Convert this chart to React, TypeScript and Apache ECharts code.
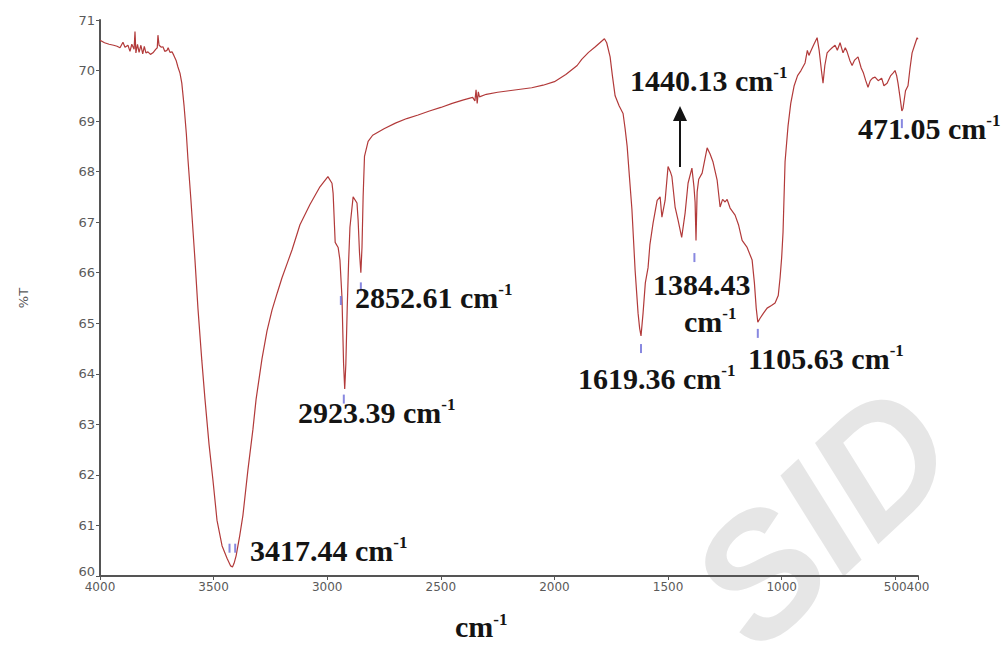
import React, { useEffect, useRef } from "react";
import * as echarts from "echarts";

// Wavenumber (cm-1) and transmittance (%T)
const wavenumber = [
  4000, 3980, 3960, 3940, 3925, 3912, 3899, 3890, 3877, 3868, 3860, 3850, 3846, 3842, 3835, 3828, 3820, 3812, 3805, 3798,
  3789, 3778, 3767, 3755, 3748, 3745, 3740, 3730, 3723, 3715, 3705, 3700, 3692, 3683, 3675, 3665, 3657, 3648, 3640, 3630,
  3620, 3613, 3600, 3582, 3569, 3552, 3538, 3520, 3503, 3485, 3463, 3441, 3425, 3417, 3410, 3401, 3385, 3371, 3349, 3327,
  3313, 3287, 3265, 3243, 3220, 3199, 3175, 3155, 3120, 3076, 3032, 2997, 2979, 2974, 2965, 2952, 2944, 2935, 2928, 2923,
  2918, 2912, 2906, 2900, 2886, 2869, 2864, 2858, 2852, 2847, 2842, 2836, 2820, 2800, 2750, 2700, 2650, 2600, 2550, 2500,
  2450, 2400, 2360, 2350, 2345, 2340, 2335, 2330, 2300, 2250, 2200, 2150, 2100, 2050, 2000, 1950, 1900, 1880, 1850, 1820,
  1800, 1780, 1770, 1755, 1745, 1733, 1715, 1698, 1689, 1680, 1670, 1659, 1645, 1632, 1625, 1619, 1610, 1600, 1588, 1580,
  1566, 1548, 1535, 1527, 1513, 1500, 1490, 1483, 1469, 1456, 1440, 1425, 1412, 1395, 1386, 1381, 1377, 1372, 1365, 1350,
  1328, 1315, 1302, 1284, 1271, 1260, 1249, 1240, 1227, 1205, 1190, 1174, 1152, 1130, 1120, 1112, 1105, 1095, 1080, 1064,
  1045, 1029, 1015, 1007, 1000, 994, 985, 972, 960, 945, 930, 915, 897, 887, 880, 875, 860, 844, 835, 825,
  818, 810, 800, 790, 778, 765, 755, 743, 730, 720, 712, 700, 690, 680, 664, 650, 640, 630, 620, 610,
  600, 589, 575, 560, 550, 536, 520, 510, 501, 494, 488, 480, 471, 466, 455, 444, 435, 426, 415, 404,
  400,
];

const transmittance = [
  70.6, 70.55, 70.52, 70.5, 70.48, 70.45, 70.56, 70.46, 70.5, 70.38, 70.52, 70.42, 70.77, 70.35, 70.52, 70.36, 70.5, 70.33, 70.48, 70.35,
  70.37, 70.32, 70.35, 70.42, 70.45, 70.7, 70.5, 70.46, 70.47, 70.38, 70.4, 70.45, 70.36, 70.37, 70.3, 70.2, 70.07, 69.95, 69.75, 69.3,
  68.75, 68.25, 67.45, 66.25, 65.3, 64.27, 63.5, 62.6, 61.9, 61.1, 60.6, 60.35, 60.2, 60.18, 60.25, 60.4, 60.8, 61.2, 62.1, 62.9,
  63.5, 64.3, 64.85, 65.26, 65.6, 65.9, 66.2, 66.45, 66.95, 67.35, 67.7, 67.9, 67.77, 67.57, 66.6, 66.5, 66.25, 65.5, 64.2, 63.7,
  64.2, 65.3, 66.2, 66.9, 67.5, 67.38, 67.04, 66.4, 66.0, 66.5, 67.5, 68.3, 68.6, 68.72, 68.85, 68.96, 69.05, 69.12, 69.2, 69.27,
  69.35, 69.42, 69.47, 69.4, 69.62, 69.35, 69.58, 69.48, 69.53, 69.57, 69.6, 69.63, 69.66, 69.71, 69.78, 69.92, 70.1, 70.22, 70.36, 70.47,
  70.55, 70.63, 70.55, 70.27, 69.9, 69.5, 69.3, 69.15, 68.85, 68.5, 67.9, 67.25, 66.05, 65.2, 64.9, 64.75, 65.2, 65.8, 66.1, 66.55,
  66.98, 67.43, 67.5, 67.1, 67.43, 68.1, 68.0, 67.9, 67.3, 67.04, 66.7, 67.18, 67.77, 68.07, 67.7, 67.4, 66.64, 67.6, 67.85, 67.97,
  68.47, 68.35, 68.19, 67.83, 67.3, 67.45, 67.4, 67.45, 67.28, 67.14, 66.95, 66.64, 66.5, 66.25, 65.8, 65.3, 65.02, 65.1, 65.2, 65.3,
  65.35, 65.4, 65.55, 65.9, 66.3, 66.8, 68.2, 68.9, 69.35, 69.7, 69.9, 70.0, 70.15, 70.4, 70.3, 70.35, 70.5, 70.65, 70.4, 70.0,
  69.75, 70.1, 70.35, 70.4, 70.45, 70.5, 70.4, 70.55, 70.35, 70.45, 70.37, 70.2, 70.1, 70.2, 70.27, 70.05, 69.95, 69.8, 69.67, 69.8,
  69.85, 69.87, 69.8, 69.85, 69.7, 69.75, 69.9, 69.95, 70.0, 69.9, 69.75, 69.5, 69.2, 69.25, 69.6, 69.7, 70.05, 70.35, 70.5, 70.65,
  70.62,
];

// Small blue peak-pick markers under the absorption minima
const markerWavenumber = [3430, 3405, 2940, 2927, 2852, 1619, 1384, 1105, 471];
const markerTransmittance = [60.55, 60.55, 65.45, 63.5, 65.72, 64.5, 66.3, 64.8, 68.95];

// Axis ticks
const xTicks = [4000, 3500, 3000, 2500, 2000, 1500, 1000, 500, 400];
const yMin = 60;
const yMax = 71;

// Peak annotations
const peakLabels = ["3417.44", "2923.39", "2852.61", "1440.13", "1619.36", "1105.63", "471.05"];

export default function App() {
  const ref = useRef<HTMLDivElement>(null);

  useEffect(() => {
    if (!ref.current) return;
    const chart = echarts.init(ref.current, undefined, { renderer: "svg" });

    const serif = "'Liberation Serif', 'Times New Roman', serif";
    const sans = "'DejaVu Sans', Arial, sans-serif";
    const rich = {
      n: { fontFamily: serif, fontWeight: "bold", fontSize: 30, lineHeight: 32, fill: "#141414", color: "#141414" },
      s: { fontFamily: serif, fontWeight: "bold", fontSize: 17, lineHeight: 17, fill: "#141414", color: "#141414", verticalAlign: "top" },
    } as any;

    const label = (text: string, x: number, y: number, withUnit = true) => ({
      type: "text",
      x,
      y,
      z: 10,
      style: {
        text: withUnit ? `{n|${text} cm}{s|-1}` : `{n|${text}}`,
        rich,
        align: "left",
        verticalAlign: "middle",
      },
    });

    chart.setOption({
      animation: false,
      backgroundColor: "#ffffff",
      grid: { left: 100, right: 84, top: 20, bottom: 70, containLabel: false },
      xAxis: {
        type: "value",
        min: 400,
        max: 4000,
        inverse: true,
        axisLine: { show: true, lineStyle: { color: "#555555", width: 2 } },
        axisTick: { show: true, customValues: xTicks, length: 4, lineStyle: { color: "#555555", width: 1 } },
        axisLabel: {
          customValues: xTicks,
          formatter: (v: number) => String(v),
          hideOverlap: false,
          showMinLabel: true,
          showMaxLabel: true,
          color: "#5a5a5a",
          fontSize: 12,
          fontFamily: sans,
          margin: 5,
        },
        splitLine: { show: false },
      },
      yAxis: {
        type: "value",
        min: yMin,
        max: yMax,
        interval: 1,
        name: "%T",
        nameLocation: "middle",
        nameGap: 70,
        nameRotate: 90,
        nameTextStyle: { color: "#5a5a5a", fontSize: 13, fontFamily: sans },
        axisLine: { show: true, lineStyle: { color: "#555555", width: 2 } },
        axisTick: { show: true, length: 4, lineStyle: { color: "#555555", width: 1 } },
        axisLabel: {
          formatter: (v: number) => (v === yMin ? `{low|${v}}` : String(v)),
          rich: { low: { color: "#5a5a5a", fontSize: 13, fontFamily: sans, padding: [0, 0, 10, 0] } },
          color: "#5a5a5a",
          fontSize: 13,
          fontFamily: sans,
          margin: 5,
        },
        splitLine: { show: false },
      },
      series: [
        {
          type: "line",
          data: wavenumber.map((w, i) => [w, transmittance[i]]),
          showSymbol: false,
          lineStyle: { color: "#b23a3a", width: 1.2 },
          z: 3,
        },
        {
          type: "scatter",
          data: markerWavenumber.map((w, i) => [w, markerTransmittance[i]]),
          symbol: "rect",
          symbolSize: [2, 9],
          itemStyle: { color: "#6a6ad8" },
          z: 4,
        },
      ],
      graphic: [
        {
          type: "text",
          x: 822,
          y: 516,
          rotation: 0.75,
          z: 0,
          style: {
            text: "SID",
            fontFamily: "'Liberation Sans', Arial, sans-serif",
            fontWeight: "bold",
            fontStyle: "italic",
            fontSize: 170,
            fill: "#e6e6e6",
            align: "center",
            verticalAlign: "middle",
          },
        },
        label(peakLabels[0], 250, 550),
        label(peakLabels[1], 298, 412),
        label(peakLabels[2], 355, 297),
        label(peakLabels[3], 630, 80),
        label("1384.43", 653, 284, false),
        {
          type: "text",
          x: 684,
          y: 321,
          z: 10,
          style: { text: "{n|cm}{s|-1}", rich, align: "left", verticalAlign: "middle" },
        },
        label(peakLabels[4], 578, 378),
        label(peakLabels[5], 748, 358),
        label(peakLabels[6], 858, 128),
        {
          type: "text",
          x: 455,
          y: 626,
          z: 10,
          style: {
            text: "{n|cm}{s|-1}",
            rich: {
              n: { fontFamily: serif, fontWeight: "bold", fontSize: 30, lineHeight: 30, fill: "#141414", color: "#141414" },
              s: { fontFamily: serif, fontWeight: "bold", fontSize: 17, lineHeight: 17, fill: "#141414", color: "#141414", verticalAlign: "top" },
            },
            align: "left",
            verticalAlign: "middle",
          },
        },
        {
          type: "line",
          z: 10,
          shape: { x1: 680, y1: 167, x2: 680, y2: 118 },
          style: { stroke: "#141414", lineWidth: 2 },
        },
        {
          type: "polygon",
          z: 10,
          shape: { points: [[680, 106], [673, 121], [687, 121]] },
          style: { fill: "#141414" },
        },
      ],
    });

    return () => chart.dispose();
  }, []);

  return (
    <div
      ref={ref}
      style={{ position: "absolute", left: 0, top: 0, width: 1002, height: 646, background: "#fff" }}
    />
  );
}
